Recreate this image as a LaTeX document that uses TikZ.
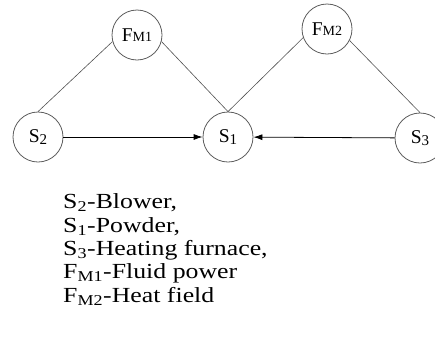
\documentclass[tikz,border=0pt]{standalone}
\usepackage{fontspec}
\setmainfont{Liberation Serif}
\usetikzlibrary{arrows.meta}
\definecolor{circleGray}{HTML}{5C5C5C}
\definecolor{linkGray}{HTML}{505050}
\newcommand{\slbl}[2]{#1\raisebox{-1.5pt}{\fontsize{15}{15}\selectfont #2}}
\newcommand{\flbl}[2]{#1{\fontsize{14}{14}\selectfont #2}}

\begin{document}
\begin{tikzpicture}[x=1pt,y=-1pt,
  state/.style={circle,draw=circleGray,line width=0.8pt,minimum size=50pt,inner sep=0pt,font=\fontsize{19.5}{19.5}\selectfont},
  link/.style={draw=linkGray,line width=0.6pt},
  flow/.style={draw=black,line width=0.8pt,-{Latex[length=9pt,width=6pt]}},
  legend/.style={anchor=base west,inner sep=0pt,font=\fontsize{21.5}{21.5}\selectfont}]
\useasboundingbox (0,0) rectangle (435,338);
\node[state] (s2)  at (38,137)  {\slbl{S}{2}};
\node[state] (fm1) at (137,35)  {\flbl{F}{M1}};
\node[state] (s1)  at (228,137) {\slbl{S}{1}};
\node[state] (fm2) at (327,29)  {\flbl{F}{M2}};
\node[state] (s3)  at (420,138) {\slbl{S}{3}};
\draw[link] (s2.north) -- (fm1.195);
\draw[link] (fm1.-15) -- (s1.north);
\draw[link] (s1.north) -- (fm2.200);
\draw[link] (fm2.-27) -- (s3.north);
\draw[flow] (s2) -- (s1);
\draw[flow] (s3) -- (s1);
\foreach \yb/\txt [count=\i] in {208/{S\textsubscript{2}-Blower,},
  232/{S\textsubscript{1}-Powder,},
  255/{S\textsubscript{3}-Heating furnace,},
  278/{F\textsubscript{M1}-Fluid power},
  302/{F\textsubscript{M2}-Heat field}}
  \node[legend] (leg\i) at (63,\yb) {\scalebox{1.2}[1]{\txt}};
\end{tikzpicture}
\end{document}
